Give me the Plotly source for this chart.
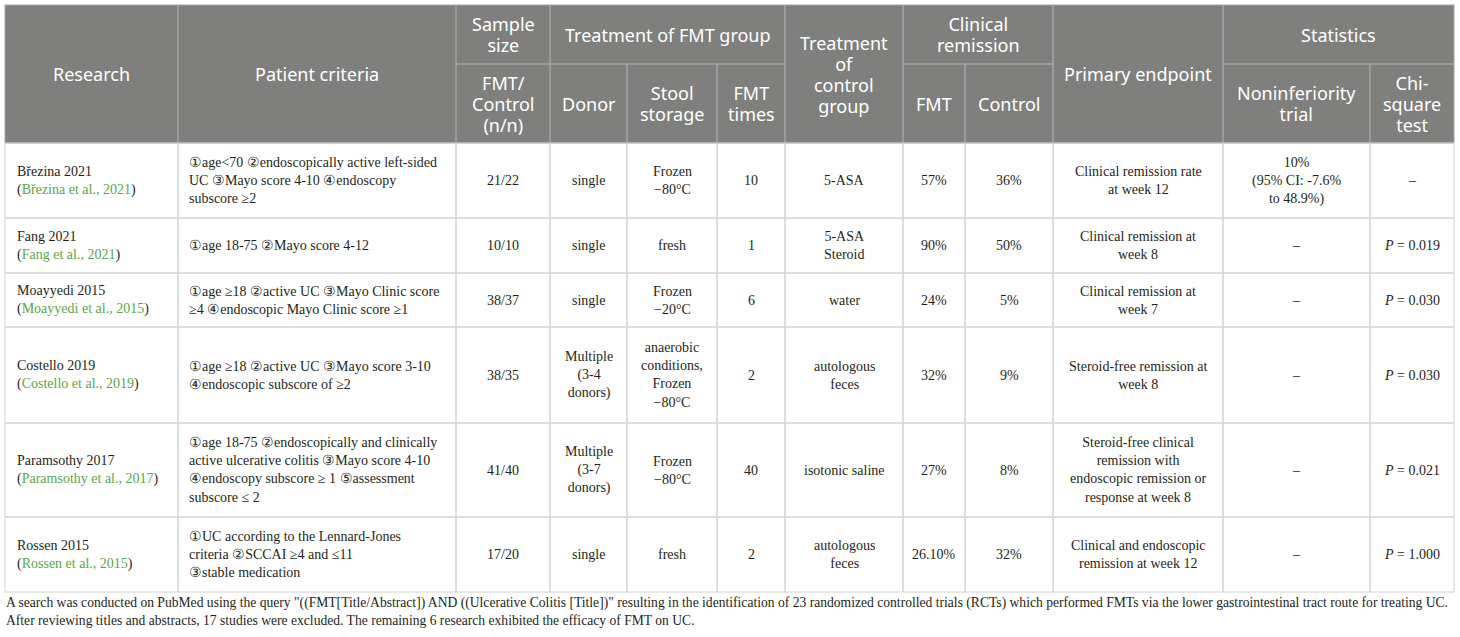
import plotly.graph_objects as go

# ---- table content -------------------------------------------------------
head_top = ["Research", "Patient criteria", "Sample<br>size", "Treatment of FMT group",
            "Treatment<br>of<br>control<br>group", "Clinical<br>remission",
            "Primary endpoint", "Statistics"]
head_sub = ["FMT/<br>Control<br>(n/n)", "Donor", "Stool<br>storage", "FMT<br>times",
            "FMT", "Control", "Noninferiority<br>trial", "Chi-<br>square<br>test"]

research = ["Březina 2021", "Fang 2021", "Moayyedi 2015", "Costello 2019",
            "Paramsothy 2017", "Rossen 2015"]
cites = ["Březina et al., 2021", "Fang et al., 2021", "Moayyedi et al., 2015",
         "Costello et al., 2019", "Paramsothy et al., 2017", "Rossen et al., 2015"]
criteria = [
    "①age&lt;70 ②endoscopically active left-sided<br>UC ③Mayo score 4-10 ④endoscopy<br>subscore ≥2",
    "①age 18-75 ②Mayo score 4-12",
    "①age ≥18 ②active UC ③Mayo Clinic score<br>≥4 ④endoscopic Mayo Clinic score ≥1",
    "①age ≥18 ②active UC ③Mayo score 3-10<br>④endoscopic subscore of ≥2",
    "①age 18-75 ②endoscopically and clinically<br>active ulcerative colitis ③Mayo score 4-10"
    "<br>④endoscopy subscore ≥ 1 ⑤assessment<br>subscore ≤ 2",
    "①UC according to the Lennard-Jones<br>criteria ②SCCAI ≥4 and ≤11<br>③stable medication",
]
sample = ["21/22", "10/10", "38/37", "38/35", "41/40", "17/20"]
donor = ["single", "single", "single", "Multiple<br>(3-4<br>donors)",
         "Multiple<br>(3-7<br>donors)", "single"]
storage = ["Frozen<br>−80°C", "fresh", "Frozen<br>−20°C",
           "anaerobic<br>conditions,<br>Frozen<br>−80°C", "Frozen<br>−80°C", "fresh"]
fmt_times = ["10", "1", "6", "2", "40", "2"]
control_tx = ["5-ASA", "5-ASA<br>Steroid", "water", "autologous<br>feces",
              "isotonic saline", "autologous<br>feces"]
rem_fmt = ["57%", "90%", "24%", "32%", "27%", "26.10%"]
rem_ctrl = ["36%", "50%", "5%", "9%", "8%", "32%"]
endpoint = ["Clinical remission rate<br>at week 12", "Clinical remission at<br>week 8",
            "Clinical remission at<br>week 7", "Steroid-free remission at<br>week 8",
            "Steroid-free clinical<br>remission with<br>endoscopic remission or<br>response at week 8",
            "Clinical and endoscopic<br>remission at week 12"]
noninf = ["10%<br>(95% CI: -7.6%<br>to 48.9%)", "–", "–", "–", "–", "–"]
chisq = ["–", "<i>P</i> = 0.019", "<i>P</i> = 0.030", "<i>P</i> = 0.030",
         "<i>P</i> = 0.021", "<i>P</i> = 1.000"]

footnote = [
    'A search was conducted on PubMed using the query "((FMT[Title/Abstract]) AND ((Ulcerative Colitis [Title])" '
    'resulting in the identification of 23 randomized controlled trials (RCTs) which performed FMTs via the lower '
    'gastrointestinal tract route for treating UC.',
    'After reviewing titles and abstracts, 17 studies were excluded. The remaining 6 research exhibited the efficacy of FMT on UC.',
]

# ---- layout grid (pixels) ------------------------------------------------
col_x = [5, 178, 456, 550, 627, 717, 785, 903, 965, 1053, 1223, 1370, 1454]
head_y = [5, 64, 143]
row_y = [143, 218, 273, 327, 423, 517, 592]
top_span = [(0, 1, 0, 2), (1, 2, 0, 2), (2, 3, 0, 1), (3, 6, 0, 1),
            (6, 7, 0, 2), (7, 9, 0, 1), (9, 10, 0, 2), (10, 12, 0, 1)]
sub_cols = [2, 3, 4, 5, 7, 8, 10, 11]

HEAD_BG = "#7f807e"
HEAD_LINE = "#a3a3a2"
BODY_LINE = "#d2d2d2"
CITE_GREEN = "#5aa648"
INK = "#231f20"
HEAD_SIZE = 18
HEAD_GAP = 21  # header line pitch in px (tighter than plotly's 1.3em)

fig = go.Figure(go.Scatter(x=[], y=[], hoverinfo="skip"))


def head_text(text, x, yc):
    # base font sets the line pitch, the inner span sets the glyph size
    lines = ["<span style='font-size:%dpx'>%s</span>" % (HEAD_SIZE, s) for s in text.split("<br>")]
    fig.add_annotation(x=x, y=yc, text="<br>".join(lines), xref="x", yref="y",
                       showarrow=False, xanchor="center", yanchor="middle", borderpad=0,
                       font=dict(family="Noto Sans", size=HEAD_GAP / 1.3, color="white"))


def body_text(text, x, yc, anchor="center"):
    fig.add_annotation(x=x, y=yc, text=text, xref="x", yref="y", showarrow=False,
                       xanchor=anchor, yanchor="middle", borderpad=0, align=anchor,
                       font=dict(family="Liberation Serif", size=14, color=INK))


def cell(x0, x1, y0, y1, color):
    fig.add_shape(type="rect", x0=x0, x1=x1, y0=y0, y1=y1, xref="x", yref="y",
                  line=dict(color=color, width=1), layer="below")


# header
fig.add_shape(type="rect", x0=col_x[0], x1=col_x[-1], y0=head_y[0], y1=head_y[-1],
              xref="x", yref="y", line_width=0, fillcolor=HEAD_BG, layer="below")
for lab, (c0, c1, r0, r1) in zip(head_top, top_span):
    cell(col_x[c0], col_x[c1], head_y[r0], head_y[r1], HEAD_LINE)
    head_text(lab, (col_x[c0] + col_x[c1]) / 2, (head_y[r0] + head_y[r1]) / 2)
for lab, c in zip(head_sub, sub_cols):
    cell(col_x[c], col_x[c + 1], head_y[1], head_y[2], HEAD_LINE)
    head_text(lab, (col_x[c] + col_x[c + 1]) / 2, (head_y[1] + head_y[2]) / 2)

# body
rest = [sample, donor, storage, fmt_times, control_tx, rem_fmt, rem_ctrl,
        endpoint, noninf, chisq]
for i in range(len(research)):
    y0, y1 = row_y[i], row_y[i + 1]
    yc = (y0 + y1) / 2
    for c in range(len(col_x) - 1):
        cell(col_x[c], col_x[c + 1], y0, y1, BODY_LINE)
    first = research[i] + "<br>(<span style='color:%s'>%s</span>)" % (CITE_GREEN, cites[i])
    body_text(first, col_x[0] + 11, yc, "left")
    body_text(criteria[i], col_x[1] + 10, yc, "left")
    for k, vals in enumerate(rest):
        c = k + 2
        body_text(vals[i], (col_x[c] + col_x[c + 1]) / 2, yc)

# footnote
for j, line in enumerate(footnote):
    fig.add_annotation(x=col_x[0], y=603 + j * 17, text=line, xref="x", yref="y",
                       showarrow=False, xanchor="left", yanchor="middle", borderpad=0,
                       font=dict(family="Liberation Serif", size=13.6, color=INK))

fig.update_xaxes(range=[0, 1460], visible=False, fixedrange=True)
fig.update_yaxes(range=[637, 0], visible=False, fixedrange=True)
fig.update_layout(width=1460, height=637, margin=dict(l=0, r=0, t=0, b=0),
                  plot_bgcolor="white", paper_bgcolor="white", showlegend=False)

# drop the browser's default body margin so the figure sits at the page corner
fig.write_html("out.html", config={"displayModeBar": False},
               post_script="document.body.style.margin='0';")
